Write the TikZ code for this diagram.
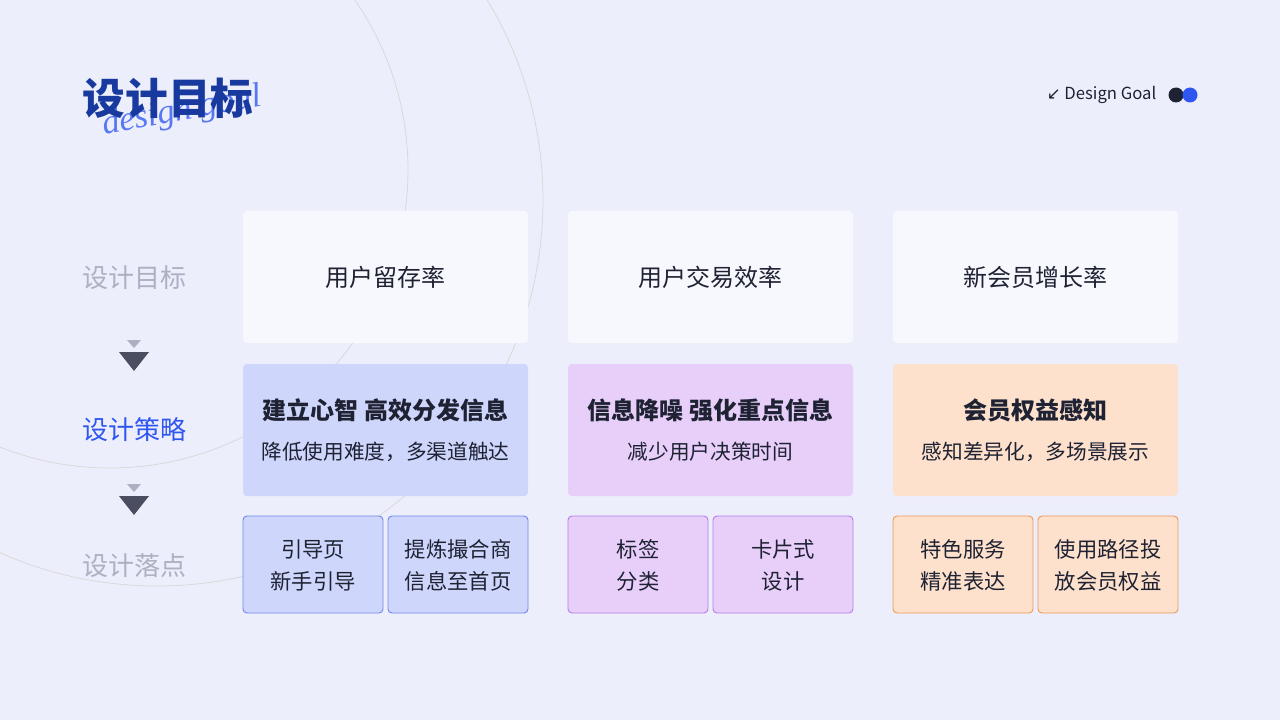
\documentclass[tikz,border=0pt]{standalone}
\usepackage{fontspec}
\setmainfont{Noto Sans CJK SC}
\newfontfamily\dv{DejaVu Sans}
\newfontfamily\lt{Liberation Serif}
\definecolor{bg}{HTML}{EDEEFB}
\definecolor{wbox}{HTML}{F7F8FD}
\definecolor{bluef}{HTML}{CFD6FB}
\definecolor{purf}{HTML}{E8CFFA}
\definecolor{oraf}{HTML}{FDE1CC}
\definecolor{blued}{HTML}{6F88EE}
\definecolor{purd}{HTML}{B67DEB}
\definecolor{orad}{HTML}{EE9A58}
\definecolor{txt}{HTML}{1E2233}
\definecolor{accent}{HTML}{2F56F0}
\definecolor{navy}{HTML}{183A9E}
\definecolor{gray}{HTML}{ADB0C2}
\definecolor{tridark}{HTML}{4B4D60}
\begin{document}
\begin{tikzpicture}[x=0.75pt,y=-0.75pt,
  t1/.style={font=\fontsize{18}{22}\selectfont\bfseries,text=txt},
  t2/.style={font=\fontsize{15.5}{20}\selectfont,text=txt},
  sub/.style={font=\fontsize{16}{24}\selectfont,text=txt,align=center},
  side/.style={font=\fontsize{19.5}{22}\selectfont,text=gray}]
\useasboundingbox (0,0) rectangle (1280,720);
\fill[bg] (0,0) rectangle (1280,720);
\begin{scope}
\clip (0,0) rectangle (1280,720);
\draw[black!15,line width=0.6pt] (110,170) circle[radius=298];
\draw[black!15,line width=0.6pt] (157,200) circle[radius=386];
\end{scope}
% title
\node[font=\lt\itshape\fontsize{26}{26}\selectfont,text=accent!80,rotate=10] (script) at (182,112) {design goal};
\node[font=\fontsize{32}{36}\selectfont\bfseries,text=navy,anchor=west] (title) at (78,98) {设计目标};
\node[font=\fontsize{12.5}{14}\selectfont,text=txt,anchor=east] (dg) at (1161,95) {{\dv ↙} Design Goal};
\fill[txt] (1176,95) circle[radius=7.5];
\fill[accent] (1190,95) circle[radius=7.5];
% side
\node[side] (s1) at (134,278) {设计目标};
\node[side,text=accent] (s2) at (134,430) {设计策略};
\node[side] (s3) at (134,566) {设计落点};
\fill[gray] (127,340)--(141,340)--(134,348)--cycle;
\fill[tridark] (119,352)--(149,352)--(134,371)--cycle;
\fill[gray] (127,484)--(141,484)--(134,492)--cycle;
\fill[tridark] (119,496)--(149,496)--(134,515)--cycle;
% cards
\foreach \x/\a/\b/\c/\d/\e/\f/\g/\ff/\dd in {
 243/用户留存率/建立心智 高效分发信息/降低使用难度，多渠道触达/引导页/新手引导/提炼撮合商/信息至首页/bluef/blued,
 568/用户交易效率/信息降噪 强化重点信息/减少用户决策时间/标签/分类/卡片式/设计/purf/purd,
 893/新会员增长率/会员权益感知/感知差异化，多场景展示/特色服务/精准表达/使用路径投/放会员权益/oraf/orad}{
 \fill[wbox,rounded corners=3pt] (\x,211) rectangle ++(285,132);
 \node[font=\fontsize{18}{22}\selectfont,text=txt] at (\x+142.5,277) {\a};
 \fill[\ff,rounded corners=3pt] (\x,364) rectangle ++(285,132);
 \node[t1] at (\x+142.5,410) {\b};
 \node[t2] at (\x+142.5,452) {\c};
 \filldraw[fill=\ff,draw=\dd,line width=0.7pt,rounded corners=3pt] (\x,516) rectangle ++(140,97);
 \filldraw[fill=\ff,draw=\dd,line width=0.7pt,rounded corners=3pt] (\x+145,516) rectangle ++(140,97);
 \node[sub] at (\x+70,565) {\d\\\e};
 \node[sub] at (\x+215,565) {\f\\\g};
}
\end{tikzpicture}
\end{document}
